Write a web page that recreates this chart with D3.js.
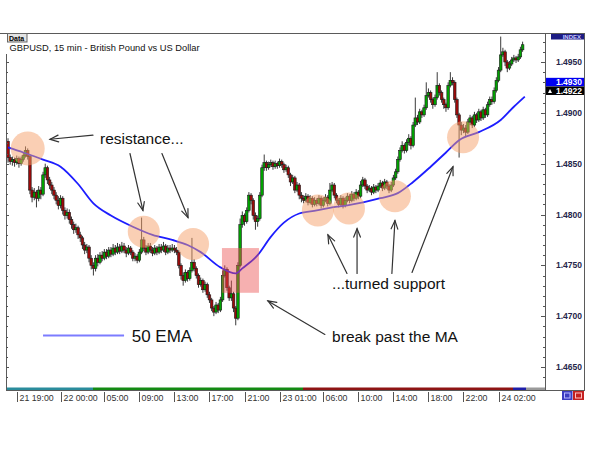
<!DOCTYPE html>
<html><head><meta charset="utf-8">
<script src="https://cdn.jsdelivr.net/npm/d3@7"></script>
<style>body{margin:0;background:#fff}svg{display:block}</style>
</head><body>
<svg id="chart" width="614" height="460"></svg>
<script>
// ---------------- DATA ----------------
const BASE = 1.46;            // prices below are pips above BASE (1 pip = 0.0001)
const symbolTitle = "GBPUSD, 15 min - British Pound vs US Dollar";
const openPips = [
272,256,252,254,251,255,250,254,258,263, 257,224,217,222,216,224,220,239,246,234,
229,224,219,214,209,216,204,199,202,195, 190,185,187,180,177,170,165,168,157,150,
147,157,153,160,157,163,159,165,161,167, 163,168,164,169,165,162,167,163,157,159,
155,163,175,167,163,169,165,162,167,163, 168,165,169,163,167,165,167,165,163,150,
140,135,143,137,145,153,147,140,131,135, 126,131,121,116,108,104,111,106,116,140,
146,128,118,122,108,98,150,190,199,193, 204,219,214,199,193,196,219,246,251,246,
249,251,247,250,248,252,249,244,246,239, 232,236,224,229,219,216,214,218,212,216,
210,214,211,216,209,214,217,211,224,229, 219,214,210,216,209,214,218,214,220,216,
222,218,229,234,228,224,226,222,227,224, 228,231,226,232,228,224,229,236,242,254,
263,268,263,271,275,268,288,295,291,301, 298,305,317,320,313,308,315,327,320,313,
308,305,327,332,330,313,298,288,283,285, 281,291,295,288,298,293,301,295,303,298,
308,313,311,322,332,342,357,360,350,344, 348,352,354,352,355,362];
const closePips = [
256,252,254,251,255,250,254,258,263,257, 224,217,222,216,224,220,239,246,234,229,
224,219,214,209,216,204,199,202,195,190, 185,187,180,177,170,165,168,157,150,147,
157,153,160,157,163,159,165,161,167,163, 168,164,169,165,162,167,163,157,159,155,
163,175,167,163,169,165,162,167,163,168, 165,169,163,167,165,167,165,163,150,140,
135,143,137,145,153,147,140,131,135,126, 131,121,116,108,104,111,106,116,140,146,
128,118,122,108,98,150,190,199,193,204, 219,214,199,193,196,219,246,251,246,249,
251,247,250,248,252,249,244,246,239,232, 236,224,229,219,216,214,218,212,216,210,
214,211,216,209,214,217,211,224,229,219, 214,210,216,209,214,218,214,220,216,222,
218,229,234,228,224,226,222,227,224,228, 231,226,232,228,224,229,236,242,254,263,
268,263,271,275,268,288,295,291,301,298, 305,317,320,313,308,315,327,320,313,308,
305,327,332,330,313,298,288,283,285,281, 291,295,288,298,293,301,295,303,298,308,
313,311,322,332,342,357,360,350,344,348, 352,354,352,355,362,367];
const highPips = [
275,259,257,256,258,257,257,261,267,265, 259,227,226,224,228,227,242,250,248,237,
232,227,222,218,219,218,207,206,205,198, 193,191,189,183,179,173,171,170,160,153,
160,161,163,164,166,166,168,168,171,170, 172,171,173,172,168,170,169,165,162,161,
166,197,178,170,172,172,168,170,169,171, 171,173,171,170,170,171,170,168,165,152,
143,146,145,148,177,156,149,142,138,137, 134,133,124,118,110,114,113,119,145,150,
148,130,135,124,110,153,196,203,201,207, 222,221,216,202,199,222,249,259,253,252,
254,253,253,252,255,254,251,249,248,241, 239,238,232,231,222,219,221,220,219,218,
217,216,219,218,217,220,219,231,232,231, 221,216,219,218,217,221,220,223,222,225,
224,233,237,236,230,229,228,230,229,231, 234,233,235,234,230,232,239,245,257,266,
272,270,274,279,277,291,315,298,304,303, 308,330,324,322,315,318,340,329,322,315,
310,330,340,335,332,315,300,291,289,288, 294,298,297,301,300,304,303,306,305,311,
316,316,325,335,345,375,364,362,352,351, 355,357,356,358,365,370];
const lowPips = [
251,249,248,247,249,246,248,252,256,254, 220,212,214,207,213,215,218,236,230,225,
220,215,210,205,206,200,195,196,191,186, 181,182,176,173,166,161,162,153,146,140,
144,149,151,154,155,156,157,158,159,160, 161,161,162,162,158,160,160,154,154,152,
153,161,164,160,161,162,159,160,160,161, 162,163,160,161,162,163,162,160,147,136,
130,133,134,135,143,144,137,128,129,123, 124,118,113,105,100,102,103,104,114,138,
125,115,115,104,91,96,148,187,189,191, 202,210,195,185,188,194,217,243,243,244,
247,244,245,245,246,246,241,242,236,228, 230,221,222,215,212,211,212,209,210,207,
208,208,209,206,207,212,208,209,222,216, 211,207,208,206,207,212,211,212,213,214,
215,216,227,225,221,222,219,220,221,222, 226,223,224,225,221,222,227,234,240,252,
261,260,261,268,264,266,286,288,289,295, 296,303,315,310,304,306,313,317,310,304,
301,303,325,327,310,295,256,278,280,277, 279,288,285,286,290,291,292,293,295,296,
306,308,309,320,330,340,355,346,340,342, 346,350,349,350,353,360];

// 50 EMA (bar index, pips above BASE)
const emaBars = [0,7,16,24,32,39,47,57,66,75,82,88,97,104,107,114,120,126,133,141,148,155,170,178,185,193,200,206,215,225,231,236];
const emaPips = [266,261,254,247,230,211,199,188,180,175,170,163,148,142,147,160,178,192,201,204,207,209,216,221,232,247,261,273,281,293,306,316];

// axis labels
const timeTickBars   = [4,24,44,60,76,92,108,124,144,160,176,192,208,224];
const timeTickLabels = ["21 19:00","22 00:00","05:00","09:00","13:00","17:00","21:00","23 01:00","06:00","10:00","14:00","18:00","22:00","24 02:00"];
const priceTickLabels = ["1.4650","1.4700","1.4750","1.4800","1.4850","1.4900","1.4950"];
const lineLevel = 1.4930, bidLevel = 1.4922;

// annotations (bar index, pips)
const circleBars = [9,62,84.5,141.5,155.7,176.7,207.8];
const circlePips = [265,183,171,204,206,218,276];
const breakZone = {bar0:97.7, bar1:114.6, pipTop:167, pipBottom:123};
const arrowFrom = [[38.8,278],[55.7,260],[70.3,260],[144.7,82],[154.8,142],[159.4,142],[175.3,142],[184.5,143]];
const arrowTo   = [[19.2,274],[61.6,204],[82.2,197],[118.7,115],[146.1,180],[159.4,186],[176.7,194],[203.2,247]];
const labelTexts = ["resistance...","...turned support","break past the MA","50 EMA"];
const labelBars  = [42,148,148,56.5];
const labelPips  = [269,127,75,75];
const legendLine = {bar0:16, bar1:53, pip:81};

// ---------------- DRAW ----------------
const svg = d3.select("#chart");
const P = v => BASE + v / 10000;
const L = 6, R = 545, T = 33, B = 390, RB = 584;
const x = d3.scaleLinear().domain([0, 236]).range([8, 524.8]);
const y = d3.scaleLinear().domain([1.4650, 1.4950]).range([367, 62]);
const FONT = "'Liberation Sans', Arial, sans-serif";

svg.append("rect").attr("width",614).attr("height",460).attr("fill","#fff");

const defs = svg.append("defs");
defs.append("clipPath").attr("id","clip").append("rect")
  .attr("x",L+1).attr("y",T+1).attr("width",R-L-1).attr("height",B-T-1);

const plot = svg.append("g").attr("clip-path","url(#clip)");

// candles
const bars = d3.range(closePips.length);
const cg = plot.append("g");
cg.selectAll("line.w").data(bars).join("line")
  .attr("x1",i=>x(i)).attr("x2",i=>x(i))
  .attr("y1",i=>y(P(highPips[i]))).attr("y2",i=>y(P(lowPips[i])))
  .attr("stroke","#3a3a3a").attr("stroke-width",1);
cg.selectAll("rect.b").data(bars).join("rect")
  .attr("x",i=>x(i)-1.3).attr("width",2.6)
  .attr("y",i=>y(P(Math.max(openPips[i],closePips[i]))))
  .attr("height",i=>Math.max(1,Math.abs(y(P(openPips[i]))-y(P(closePips[i])))))
  .attr("fill",i=>closePips[i]>=openPips[i]?"#00a400":"#9c0a0a")
  .attr("stroke","#1a1a1a").attr("stroke-width",0.6);

// EMA
plot.append("path")
  .datum(emaBars.map((b,k)=>[b,emaPips[k]]))
  .attr("d", d3.line().x(d=>x(d[0])).y(d=>y(P(d[1]))).curve(d3.curveMonotoneX))
  .attr("fill","none").attr("stroke","#1d1dff").attr("stroke-width",1.8);

// highlight circles and break zone
plot.selectAll("circle.h").data(circleBars).join("circle")
  .attr("cx",(b)=>x(b)).attr("cy",(b,k)=>y(P(circlePips[k])))
  .attr("r",(b,k)=>k===0?17:16)
  .attr("fill","#f5a06a").attr("fill-opacity",0.5);
plot.append("rect")
  .attr("x",x(breakZone.bar0)).attr("width",x(breakZone.bar1)-x(breakZone.bar0))
  .attr("y",y(P(breakZone.pipTop))).attr("height",y(P(breakZone.pipBottom))-y(P(breakZone.pipTop)))
  .attr("fill","#ec5050").attr("fill-opacity",0.45);

// bottom strip
const strips = [[L+1,93,"#2a8c9c"],[93,303,"#138a13"],[303,513,"#8e1414"],[513,526,"#1e1ea8"],[526,R,"#9a9a9a"]];
svg.selectAll("rect.s").data(strips).join("rect")
  .attr("x",d=>d[0]).attr("width",d=>d[1]-d[0]).attr("y",B-2.5).attr("height",2.5).attr("fill",d=>d[2]);

// arrows
const ag = svg.append("g").attr("stroke","#333").attr("stroke-width",1.2).attr("fill","none").attr("stroke-linecap","round");
arrowFrom.forEach((f,k)=>{
  const x1=x(f[0]), y1=y(P(f[1])), x2=x(arrowTo[k][0]), y2=y(P(arrowTo[k][1]));
  const a=Math.atan2(y2-y1,x2-x1), h=9, s=0.38;
  ag.append("line").attr("x1",x1).attr("y1",y1).attr("x2",x2).attr("y2",y2);
  ag.append("path").attr("d",`M${x2-h*Math.cos(a-s)},${y2-h*Math.sin(a-s)}L${x2},${y2}L${x2-h*Math.cos(a+s)},${y2-h*Math.sin(a+s)}`);
});

// legend line
svg.append("line").attr("x1",x(legendLine.bar0)).attr("x2",x(legendLine.bar1))
  .attr("y1",y(P(legendLine.pip))).attr("y2",y(P(legendLine.pip)))
  .attr("stroke","#7c7cff").attr("stroke-width",2);

// annotation texts
svg.selectAll("text.ann").data(labelTexts).join("text")
  .attr("x",(t,k)=>x(labelBars[k])).attr("y",(t,k)=>y(P(labelPips[k])))
  .attr("font-family",FONT).attr("font-size",(t,k)=>k===3?17:15.5)
  .attr("fill","#111").text(t=>t);

// frame
const fg = svg.append("g").attr("fill","none").attr("stroke","#5a5a5a").attr("stroke-width",1);
fg.append("line").attr("x1",0).attr("x2",RB).attr("y1",T+0.5).attr("y2",T+0.5);
fg.append("line").attr("x1",L+0.5).attr("x2",L+0.5).attr("y1",54).attr("y2",B+1);
fg.append("line").attr("x1",L).attr("x2",RB).attr("y1",B+0.5).attr("y2",B+0.5);
fg.append("line").attr("x1",R+0.5).attr("x2",R+0.5).attr("y1",T).attr("y2",B+1);
fg.append("line").attr("x1",RB+0.5).attr("x2",RB+0.5).attr("y1",T).attr("y2",B+1);

// price axis ticks (left & right) every 10 pips
const minorTicks = d3.range(1.4640, 1.4975, 0.001).filter(v=>y(v)>T+3 && y(v)<B-3);
const majorSet = new Set(priceTickLabels);
svg.append("g").selectAll("line").data(minorTicks).join("line")
  .attr("x1",v=>R-(majorSet.has(v.toFixed(4))?4:2)).attr("x2",R)
  .attr("y1",v=>Math.round(y(v))+0.5).attr("y2",v=>Math.round(y(v))+0.5)
  .attr("stroke","#555").attr("stroke-width",1);
svg.append("g").selectAll("line").data(minorTicks.filter(v=>y(v)>56)).join("line")
  .attr("x1",L).attr("x2",v=>L+(majorSet.has(v.toFixed(4))?3:2))
  .attr("y1",v=>Math.round(y(v))+0.5).attr("y2",v=>Math.round(y(v))+0.5)
  .attr("stroke","#555").attr("stroke-width",1);

// price labels
svg.append("g").selectAll("text").data(priceTickLabels).join("text")
  .attr("x",582).attr("y",s=>y(+s)+3).attr("text-anchor","end")
  .attr("font-family",FONT).attr("font-size",8.5).attr("font-weight","bold")
  .attr("fill","#25254a").text(s=>s);

// current price boxes
svg.append("rect").attr("x",R+1).attr("width",RB-R-1).attr("y",y(lineLevel)-4.5).attr("height",8.5).attr("fill","#0000f0");
svg.append("text").attr("x",582).attr("y",y(lineLevel)+3).attr("text-anchor","end")
  .attr("font-family",FONT).attr("font-size",8.5).attr("font-weight","bold").attr("fill","#fff").text(lineLevel.toFixed(4));
svg.append("rect").attr("x",R+1).attr("width",RB-R-1).attr("y",y(bidLevel)-4).attr("height",8.5).attr("fill","#000");
svg.append("path").attr("d",`M${R+3},${y(bidLevel)+2.5}l2,-4l2,4z`).attr("fill","#fff");
svg.append("text").attr("x",582).attr("y",y(bidLevel)+3.5).attr("text-anchor","end")
  .attr("font-family",FONT).attr("font-size",8.5).attr("font-weight","bold").attr("fill","#fff").text(bidLevel.toFixed(4));

// INDEX tab
svg.append("rect").attr("x",551).attr("y",T+1).attr("width",RB-551).attr("height",5.5).attr("fill","#1c1c84");
svg.append("text").attr("x",581).attr("y",T+6).attr("text-anchor","end").attr("font-family",FONT)
  .attr("font-size",6).attr("font-weight","bold").attr("fill","#c8c8ff").text("INDEX");

// Data tab + title
svg.append("rect").attr("x",7.5).attr("y",T+0.5).attr("width",19.5).attr("height",8.5).attr("fill","#e4e4e4").attr("stroke","#666");
svg.append("text").attr("x",9).attr("y",T+7.5).attr("font-family",FONT).attr("font-size",7).attr("font-weight","bold").attr("fill","#000").text("Data");
svg.append("text").attr("x",9.5).attr("y",51).attr("font-family",FONT).attr("font-size",9.3).attr("fill","#111").text(symbolTitle);

// time axis
const tg = svg.append("g");
tg.selectAll("line").data(timeTickBars).join("line")
  .attr("x1",b=>Math.round(x(b))+0.5).attr("x2",b=>Math.round(x(b))+0.5)
  .attr("y1",B+2).attr("y2",B+12).attr("stroke","#555");
tg.selectAll("text").data(timeTickLabels).join("text")
  .attr("x",(t,k)=>Math.round(x(timeTickBars[k]))+2.5).attr("y",B+10.5)
  .attr("font-family",FONT).attr("font-size",8.8).attr("fill","#333").text(t=>t);

// bottom-right buttons
svg.append("rect").attr("x",562).attr("y",B+1).attr("width",10.5).attr("height",9).attr("fill","#3c3cc0");
svg.append("rect").attr("x",564.5).attr("y",B+3).attr("width",5.5).attr("height",5).attr("fill","none").attr("stroke","#b8b8ff");
svg.append("rect").attr("x",573).attr("y",B+1).attr("width",11).attr("height",9).attr("fill","#c42020");
svg.append("rect").attr("x",575.5).attr("y",B+3).attr("width",6).attr("height",5).attr("fill","none").attr("stroke","#ffc0c0");
</script>
</body></html>
